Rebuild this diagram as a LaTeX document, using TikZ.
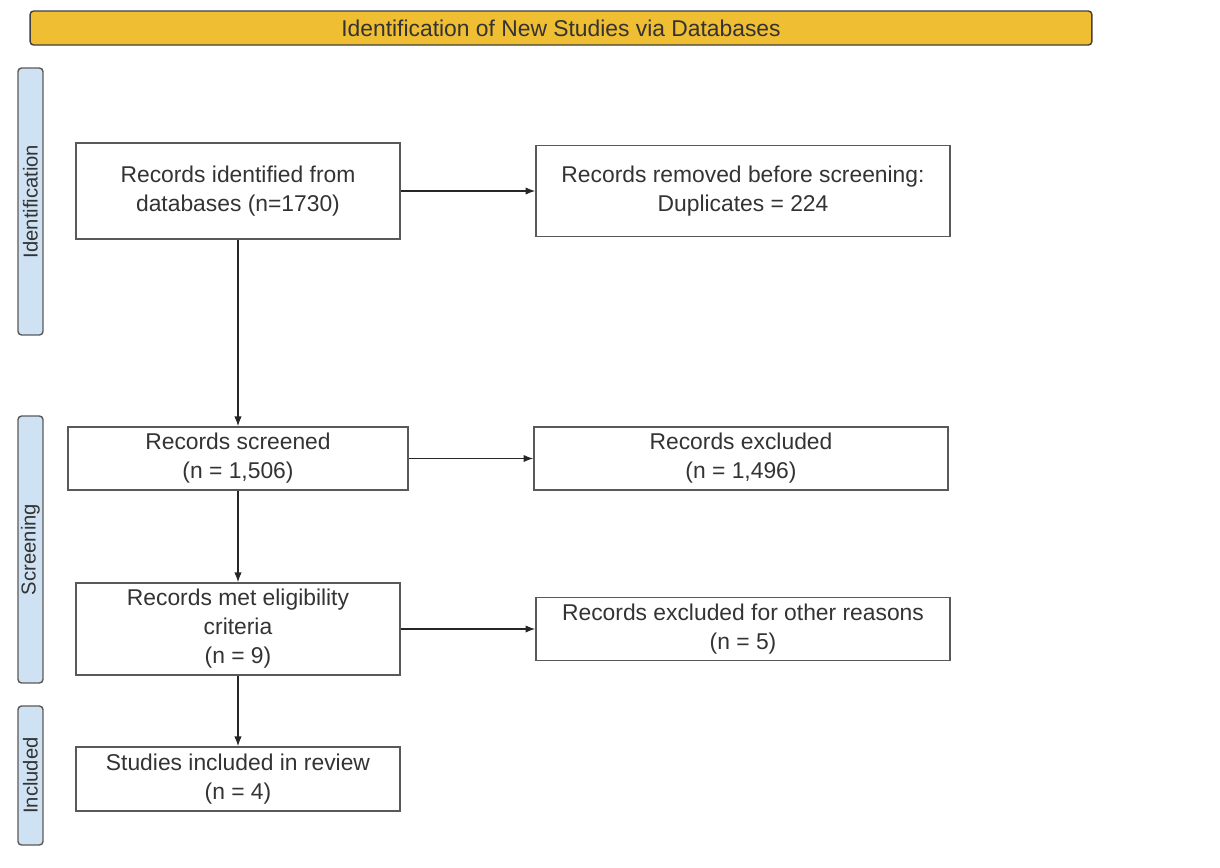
\documentclass[tikz,border=0pt]{standalone}
\usepackage{fontspec}
\setmainfont{Liberation Sans}
\usetikzlibrary{arrows.meta}

\definecolor{headgold}{HTML}{F0BE32}
\definecolor{sideblue}{HTML}{CFE2F3}
\definecolor{edgegray}{HTML}{595959}
\definecolor{inkgray}{HTML}{333333}

\begin{document}
\begin{tikzpicture}[
  x=0.02cm,y=-0.02cm,
  font=\fontsize{13}{16.5}\selectfont,
  box/.style={draw=edgegray,line width=1pt,align=center,inner sep=2pt,text=inkgray},
  head/.style={draw=black!75,fill=headgold,rounded corners=2pt,line width=0.8pt,minimum width=21.24cm,minimum height=0.68cm,inner sep=0pt,text=inkgray},
  side/.style={draw=edgegray,fill=sideblue,rounded corners=2pt,line width=0.8pt,rotate=90,minimum height=0.5cm,inner sep=0pt,text=inkgray,font=\fontsize{11.5}{13}\selectfont},
  arr/.style={-{Latex[length=5.5pt,width=4.2pt]},line width=0.7pt,draw=black!85}
]
\useasboundingbox (0,0) rectangle (1220,867);

% ---- banner and stage labels ----
\node[head] (banner) at (561,28) {Identification of New Studies via Databases};
\node[side,minimum width=5.34cm] (sidid)  at (30.5,201.5) {Identification};
\node[side,minimum width=5.34cm] (sidscr) at (30.5,549.5) {Screening};
\node[side,minimum width=2.78cm] (sidinc) at (30.5,775.5) {Included};

% ---- main column ----
\node[box,minimum width=6.48cm,minimum height=1.92cm] (rec)  at (238,191)   {Records identified from\\databases (n=1730)};
\node[box,minimum width=6.8cm,minimum height=1.26cm]  (scr)  at (238,458.5) {Records screened\\(n = 1,506)};
\node[box,minimum width=6.48cm,minimum height=1.84cm] (elig) at (238,629)   {Records met eligibility\\criteria\\(n = 9)};
\node[box,minimum width=6.48cm,minimum height=1.28cm] (inc)  at (238,779)   {Studies included in review\\(n = 4)};

% ---- exclusions (right) ----
\node[box,minimum width=8.28cm,minimum height=1.82cm] (dup) at (743,191)   {Records removed before screening:\\Duplicates = 224};
\node[box,minimum width=8.28cm,minimum height=1.26cm] (exc) at (741,458.5) {Records excluded\\(n = 1,496)};
\node[box,minimum width=8.28cm,minimum height=1.26cm] (oth) at (743,629)   {Records excluded for other reasons\\(n = 5)};

\draw[arr] (rec) -- (dup);
\draw[arr] (rec) -- (scr);
\draw[arr] (scr) -- (exc);
\draw[arr] (scr) -- (elig);
\draw[arr] (elig) -- (oth);
\draw[arr] (elig) -- (inc);
\end{tikzpicture}
\end{document}
